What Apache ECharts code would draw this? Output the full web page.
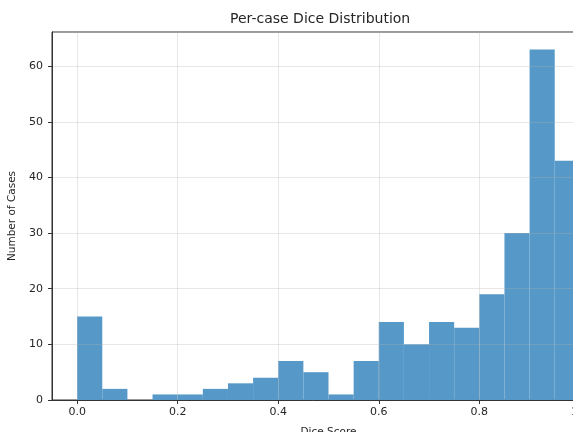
<!DOCTYPE html>
<html>
<head>
<meta charset="utf-8">
<script src="https://cdn.jsdelivr.net/npm/echarts@6/dist/echarts.min.js"></script>
<style>
  html, body { margin: 0; padding: 0; background: #fff; }
  #chart { width: 573px; height: 432px; }
</style>
</head>
<body>
<div id="chart"></div>
<script>
// histogram bins (0..1, width 0.05) and counts per bin
const binEdges = [0, 0.05, 0.1, 0.15, 0.2, 0.25, 0.3, 0.35, 0.4, 0.45, 0.5,
  0.55, 0.6, 0.65, 0.7, 0.75, 0.8, 0.85, 0.9, 0.95, 1.0]
const counts = [15, 2, 0, 1, 1, 2, 3, 4, 7, 5, 1, 7, 14, 10, 14, 13, 19, 30, 63, 43]
const xTicks = [0, 0.2, 0.4, 0.6, 0.8, 1.0]

const histData = counts.map((c, i) => [binEdges[i], binEdges[i + 1], c])

const chart = echarts.init(document.getElementById('chart'))

const textColor = '#262626'
const font = 'DejaVu Sans'

chart.setOption({
  animation: false,
  title: {
    text: 'Per-case Dice Distribution',
    left: 230,
    top: 12,
    padding: 0,
    textStyle: { fontFamily: font, fontSize: 14, fontWeight: 'normal', color: textColor }
  },
  grid: {
    left: 52,
    right: -32,
    top: 32,
    bottom: 32,
    outerBoundsMode: 'none',
    containLabel: false,
    show: true,
    borderColor: '#333',
    borderWidth: 1
  },
  xAxis: {
    type: 'value',
    min: -0.05,
    max: 1.05,
    z: 5,
    name: 'Dice Score',
    nameLocation: 'middle',
    nameGap: 27,
    nameTextStyle: { fontFamily: font, fontSize: 10.5, color: textColor },
    axisLine: { onZero: false, lineStyle: { color: '#333' } },
    axisTick: { customValues: xTicks, length: 4, inside: false, lineStyle: { color: '#333' } },
    axisLabel: {
      customValues: xTicks,
      margin: 7,
      fontFamily: font,
      fontSize: 11,
      color: textColor,
      formatter: v => v.toFixed(1)
    },
    splitLine: { show: true, lineStyle: { color: 'rgba(176,176,176,0.3)', width: 1 } }
  },
  yAxis: {
    type: 'value',
    min: 0,
    max: 66.15,
    interval: 10,
    z: 5,
    name: 'Number of Cases',
    nameLocation: 'middle',
    nameGap: 32,
    nameTextStyle: { fontFamily: font, fontSize: 10.5, color: textColor },
    axisLine: { show: true, onZero: false, lineStyle: { color: '#333' } },
    axisTick: { show: true, length: 4, lineStyle: { color: '#333' } },
    axisLabel: {
      margin: 9,
      fontFamily: font,
      fontSize: 11,
      color: textColor,
      showMaxLabel: false
    },
    splitLine: { show: true, lineStyle: { color: 'rgba(176,176,176,0.3)', width: 1 } }
  },
  series: [{
    type: 'custom',
    z: 2,
    data: histData,
    renderItem: function (params, api) {
      const p0 = api.coord([api.value(0), api.value(2)])
      const p1 = api.coord([api.value(1), 0])
      return {
        type: 'rect',
        shape: { x: p0[0], y: p0[1], width: p1[0] - p0[0], height: p1[1] - p0[1] },
        style: { fill: '#5699c8' }
      }
    }
  }]
})
</script>
</body>
</html>
